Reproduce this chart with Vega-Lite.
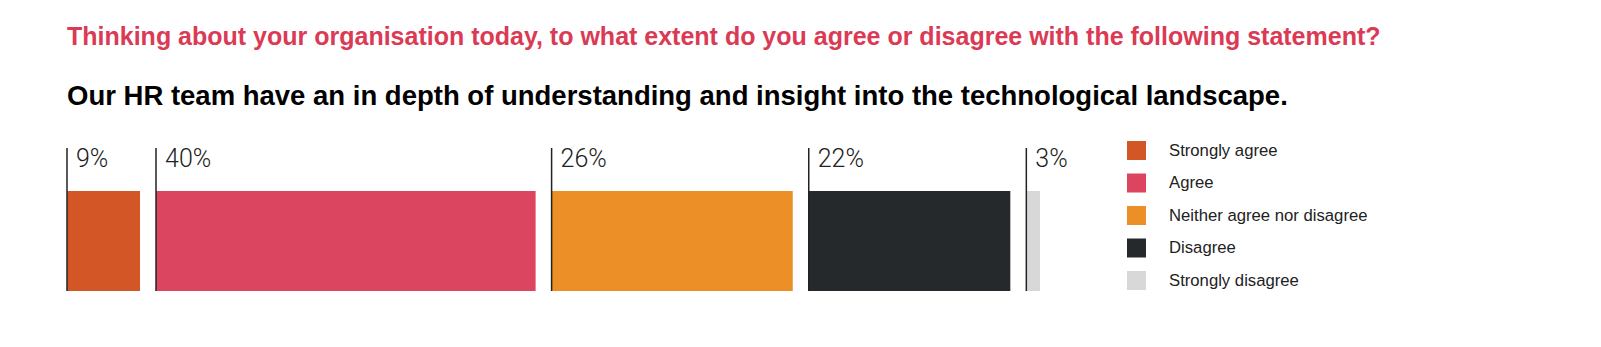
{
  "$schema": "https://vega.github.io/schema/vega-lite/v6.json",
  "width": 989,
  "height": 143,
  "autosize": {"type": "none"},
  "padding": {"left": 67, "top": 148, "right": 545, "bottom": 56},
  "background": "white",
  "config": {"view": {"stroke": null}},
  "title": {
    "text": "Thinking about your organisation today, to what extent do you agree or disagree with the following statement?",
    "subtitle": "Our HR team have an in depth of understanding and insight into the technological landscape.",
    "anchor": "start",
    "frame": "group",
    "font": "Liberation Sans",
    "fontSize": 25,
    "fontWeight": "bold",
    "color": "#DB3A55",
    "subtitleFont": "Liberation Sans",
    "subtitleFontSize": 27.5,
    "subtitleFontWeight": "bold",
    "subtitleColor": "#000000",
    "subtitlePadding": 33,
    "offset": 31
  },
  "data": {
    "values": [
      {"response": "Strongly agree", "value": 9, "label": "9%", "order": 1},
      {"response": "Agree", "value": 40, "label": "40%", "order": 2},
      {"response": "Neither agree nor disagree", "value": 26, "label": "26%", "order": 3},
      {"response": "Disagree", "value": 22, "label": "22%", "order": 4},
      {"response": "Strongly disagree", "value": 3, "label": "3%", "order": 5}
    ]
  },
  "transform": [
    {"stack": "value", "groupby": [], "sort": [{"field": "order", "order": "ascending"}], "as": ["v0", "v1"]}
  ],
  "layer": [
    {
      "mark": {"type": "bar", "x2Offset": -16},
      "encoding": {
        "x": {"field": "v0", "type": "quantitative", "scale": {"domain": [0, 100], "nice": false, "zero": true}, "axis": null},
        "x2": {"field": "v1"},
        "y": {"datum": 0, "type": "quantitative", "scale": {"domain": [0, 1], "nice": false}, "axis": null},
        "y2": {"datum": 0.7},
        "color": {
          "field": "response",
          "type": "nominal",
          "sort": ["Strongly agree", "Agree", "Neither agree nor disagree", "Disagree", "Strongly disagree"],
          "scale": {
            "domain": ["Strongly agree", "Agree", "Neither agree nor disagree", "Disagree", "Strongly disagree"],
            "range": ["#D35726", "#DC4560", "#EC8F26", "#26292C", "#D7D8D7"]
          },
          "legend": {
            "orient": "none",
            "legendX": 1060,
            "legendY": -7,
            "title": null,
            "padding": 0,
            "symbolType": "square",
            "symbolSize": 361,
            "symbolStrokeWidth": 0,
            "symbolOpacity": 1,
            "rowPadding": 13.5,
            "labelOffset": 23,
            "labelFont": "Liberation Sans",
            "labelFontSize": 16.7,
            "labelColor": "#222222",
            "labelLimit": 400
          }
        }
      }
    },
    {
      "mark": {"type": "rule", "color": "#222222", "strokeWidth": 1.5},
      "encoding": {
        "x": {"field": "v0", "type": "quantitative"},
        "y": {"datum": 0, "type": "quantitative"},
        "y2": {"datum": 1}
      }
    },
    {
      "mark": {"type": "text", "align": "left", "baseline": "alphabetic", "dx": 9, "dy": 18.5, "font": "Roboto", "fontWeight": 300, "fontSize": 25, "color": "#222222"},
      "encoding": {
        "x": {"field": "v0", "type": "quantitative"},
        "y": {"datum": 1, "type": "quantitative"},
        "text": {"field": "label"}
      }
    }
  ]
}
